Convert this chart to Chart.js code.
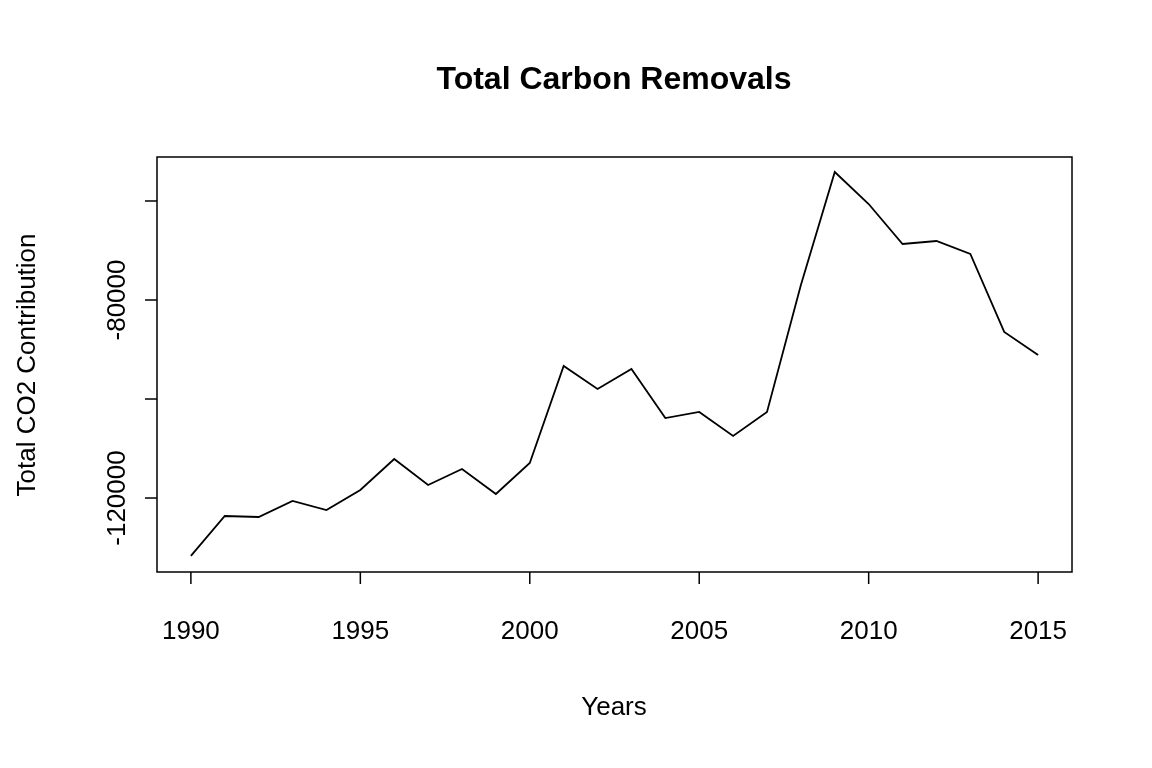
<!DOCTYPE html>
<html><head><meta charset="utf-8">
<script src="https://cdn.jsdelivr.net/npm/chart.js@4"></script>
<style>html,body{margin:0;padding:0;background:#fff}</style>
</head><body>
<canvas id="c" width="1152" height="768" style="width:1152px;height:768px;display:block"></canvas>
<script>
const years=[1990,1991,1992,1993,1994,1995,1996,1997,1998,1999,2000,2001,2002,2003,2004,2005,2006,2007,2008,2009,2010,2011,2012,2013,2014,2015];
const values=[-131700,-123630,-123830,-120600,-122420,-118380,-112120,-117370,-114140,-119190,-112930,-93330,-97980,-93940,-103840,-102620,-107470,-102620,-76970,-54140,-60610,-68690,-68080,-70710,-86460,-91110];
const xTicks=[1990,1995,2000,2005,2010,2015];
const yTicks=[-120000,-100000,-80000,-60000];
const yLabels=[-120000,-80000];
const F='"Liberation Sans", Arial, sans-serif';
const deco={id:'deco',afterDraw(ch){
 const c=ch.ctx,a=ch.chartArea,x=ch.scales.x,y=ch.scales.y;
 c.save();c.strokeStyle='#000';c.fillStyle='#000';c.lineWidth=1.5;
 c.strokeRect(a.left,a.top,a.right-a.left,a.bottom-a.top);
 c.font='26px '+F;c.textAlign='center';c.textBaseline='middle';
 xTicks.forEach(v=>{const p=x.getPixelForValue(v);c.beginPath();c.moveTo(p,a.bottom);c.lineTo(p,a.bottom+12);c.stroke();c.fillText(String(v),p,632);});
 yTicks.forEach(v=>{const p=y.getPixelForValue(v);c.beginPath();c.moveTo(a.left,p);c.lineTo(a.left-12,p);c.stroke();
  if(yLabels.includes(v)){c.save();c.translate(118,p);c.rotate(-Math.PI/2);c.fillText(String(v),0,0);c.restore();}});
 c.fillText('Years',614,708);
 c.save();c.translate(28,365);c.rotate(-Math.PI/2);c.fillText('Total CO2 Contribution',0,0);c.restore();
 c.font='bold 32px '+F;c.fillText('Total Carbon Removals',614,80);
 c.restore();}};
new Chart(document.getElementById('c'),{type:'line',
 data:{datasets:[{data:years.map((yr,i)=>({x:yr,y:values[i]})),borderColor:'#000',borderWidth:1.8,pointRadius:0,tension:0}]},
 options:{responsive:false,animation:false,devicePixelRatio:1,
  layout:{padding:{left:157,right:80,top:157,bottom:196}},
  plugins:{legend:{display:false},tooltip:{enabled:false}},
  scales:{x:{type:'linear',min:1989,max:2016,display:false},y:{min:-134944,max:-51114,display:false}}},
 plugins:[deco]});
</script>
</body></html>
